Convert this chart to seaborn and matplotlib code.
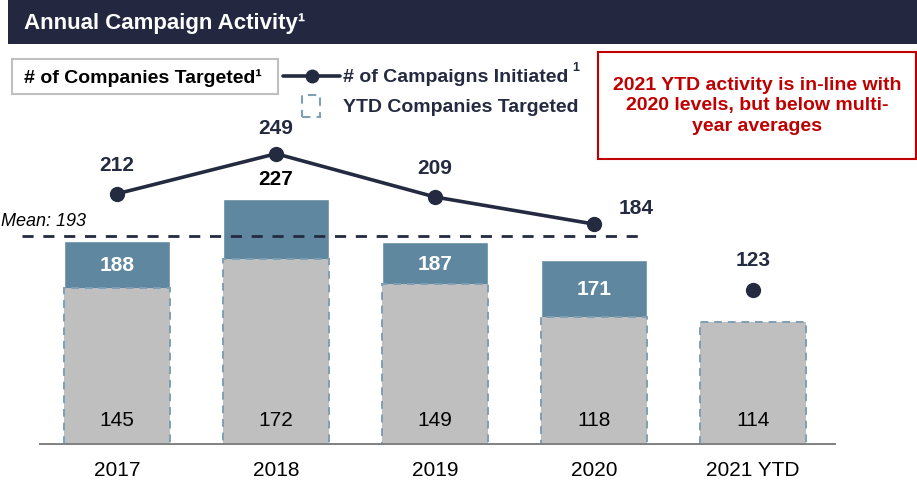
import numpy as np
import seaborn as sns
import matplotlib.pyplot as plt
from matplotlib.patches import Rectangle
from matplotlib.lines import Line2D

# ---------------- DONNEES ----------------#
years = ["2017", "2018", "2019", "2020", "2021 YTD"]
companies_total = [188, 227, 187, 171]          # blue bars (full year)
companies_ytd = [145, 172, 149, 118, 114]       # grey bars (YTD)
campaigns = [212, 249, 209, 184, 123]           # line

navy = "#242a40"
blue = "#5f88a0"
grey = "#bfbfbf"
edge = "#7f9fb5"
red = "#c00000"

sns.set_style("white")
plt.rcParams["font.family"] = ["Liberation Sans Narrow", "Liberation Sans", "DejaVu Sans"]

W, H = 917, 489
fig = plt.figure(figsize=(W / 100, H / 100), dpi=100)


def fx(px):
    return px / W


def fy(py):
    return 1 - py / H


# ---------------- BARRES ----------------#
ax = fig.add_axes([0, fy(446), 1, (446 - 45) / H])
pos = np.arange(len(years))

sns.barplot(x=years[:4], y=companies_total, order=years, color=blue,
            saturation=1, width=0.67, ax=ax)
sns.barplot(x=years, y=companies_ytd, order=years, color=grey, saturation=1,
            width=0.67, edgecolor=edge, linestyle=(0, (4, 3)), linewidth=1.4, ax=ax)

ax.set_xlim(-0.736, 5.03)
ax.set_ylim(0, 370.3)
sns.despine(ax=ax, left=True, bottom=True)
ax.set_yticks([])
ax.set_xlabel("")
ax.set_ylabel("")
ax.tick_params(axis="x", length=0, pad=11, labelsize=15, labelcolor="black")

ax.hlines(0, -0.49, 4.52, color="#808080", lw=2.8, zorder=5)

for i, v in enumerate(companies_ytd):
    ax.text(pos[i], 24, str(v), ha="center", va="center", fontsize=15, color="black")
for i, v in enumerate(companies_total):
    if i == 1:
        ax.text(pos[i], v + 19, str(v), ha="center", va="center", fontsize=15,
                fontweight="bold", color="black")
    else:
        ax.text(pos[i], (v + companies_ytd[i]) / 2, str(v), ha="center", va="center",
                fontsize=15, fontweight="bold", color="white")

# moyenne
mean = np.mean(companies_total)
ax.hlines(mean, -0.6, 3.32, color=navy, lw=2, linestyle=(0, (4, 3.5)), zorder=4)
ax.text(-0.728, mean + 6, f"Mean: {mean:.0f}", ha="left", va="bottom",
        fontsize=13, style="italic", color="black")

# ---------------- COURBE ----------------#
ax2 = ax.twinx()
sns.lineplot(x=pos[:4], y=campaigns[:4], color=navy, lw=2.6, marker="o",
             markersize=11, markeredgewidth=0, ax=ax2, zorder=6)
sns.scatterplot(x=pos[4:], y=campaigns[4:], color=navy, s=121, linewidth=0, ax=ax2)
ax2.set_xlim(-0.736, 5.03)
ax2.set_ylim(-20, 350.3)
ax2.set_yticks([])
ax2.set_ylabel("")
for s in ax2.spines.values():
    s.set_visible(False)

offsets = [(0, 21), (0, 19), (0, 21), (30, 12), (0, 22)]
for i, v in enumerate(campaigns):
    ax2.annotate(str(v), (pos[i], v), xytext=offsets[i], textcoords="offset points",
                 ha="center", va="center", fontsize=15, fontweight="bold", color=navy)

# ---------------- TITRE ----------------#
fig.add_artist(Rectangle((fx(8), fy(45)), 1 - fx(8), 45 / H, transform=fig.transFigure,
                         facecolor="#232840", edgecolor="none"))
fig.text(fx(24), fy(24), "Annual Campaign Activity¹", color="white", fontsize=16,
         fontweight="bold", ha="left", va="center")

# ---------------- LEGENDE ----------------#
fig.add_artist(Rectangle((fx(12), fy(95)), fx(266), 35 / H, transform=fig.transFigure,
                         facecolor="white", edgecolor="#bfbfbf", lw=1.5))
fig.text(fx(24), fy(78), "# of Companies Targeted¹", color="black", fontsize=14,
         fontweight="bold", ha="left", va="center")
fig.add_artist(Line2D([fx(283), fx(340)], [fy(77), fy(77)], transform=fig.transFigure,
                      color=navy, lw=2.6))
fig.add_artist(Line2D([fx(312)], [fy(77)], transform=fig.transFigure, marker="o",
                      markersize=10, color=navy, markeredgewidth=0))
fig.text(fx(343), fy(78), "# of Campaigns Initiated", color=navy, fontsize=14,
         fontweight="bold", ha="left", va="center")
fig.text(fx(572), fy(68), "1", color=navy, fontsize=9, fontweight="bold",
         ha="left", va="center")
fig.add_artist(Rectangle((fx(302), fy(118)), fx(18), 22 / H, transform=fig.transFigure,
                         facecolor="none", edgecolor=edge, lw=1.5, linestyle=(0, (4, 3))))
fig.text(fx(343), fy(108), "YTD Companies Targeted", color=navy, fontsize=14,
         fontweight="bold", ha="left", va="center")

# ---------------- ENCADRE ----------------#
fig.add_artist(Rectangle((fx(598), fy(160)), fx(318), 107 / H, transform=fig.transFigure,
                         facecolor="white", edgecolor=red, lw=1.5))
fig.text(fx(757), fy(106), "2021 YTD activity is in-line with\n2020 levels, but below multi-\nyear averages",
         color=red, fontsize=14, fontweight="bold", ha="center", va="center",
         linespacing=1.25)

fig.savefig("out.png", dpi=100)
